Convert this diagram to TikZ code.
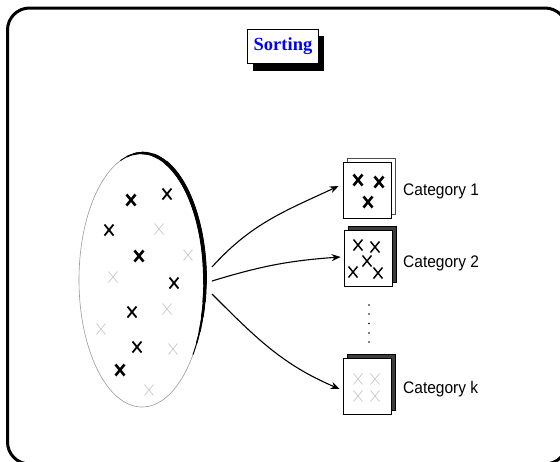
\documentclass[tikz,border=0pt]{standalone}
\usepackage{fontspec}
\setmainfont{Liberation Serif}
\setsansfont{Liberation Sans}
\usetikzlibrary{arrows.meta,shapes.geometric}
\definecolor{lightx}{RGB}{200,200,200}
\definecolor{darkpage}{RGB}{60,60,60}
\newcommand\crs[3]{\draw[#1] (#2-4.5,#3+5.5) -- (#2+4.5,#3-5.5) (#2-4.5,#3-5.5) -- (#2+4.5,#3+5.5);}
\newcommand\rim[3]{\draw[line width=#1] (142+63*cos #2,-280+127*sin #2) arc[start angle=#2,end angle=#3,x radius=63,y radius=127];}
\begin{document}
\begin{tikzpicture}[x=1pt,y=1pt,
  xb/.style={line width=2.6pt,black},
  xm/.style={line width=1.8pt,black},
  xg/.style={line width=0.7pt,lightx},
  xc/.style={line width=1.5pt,black},
  page/.style={draw=black,line width=0.7pt,minimum width=48pt,minimum height=56pt,inner sep=0pt,fill=white},
  catlabel/.style={anchor=west,font=\sffamily\fontsize{15.5}{18}\selectfont,inner sep=0pt,yscale=1.08},
  arr/.style={-{Stealth[length=9pt,width=7pt]},line width=1.1pt}]
\clip (0,0) rectangle (560,-461);
\useasboundingbox (0,0) rectangle (560,-461);
% outer frame
\draw[line width=3pt,rounded corners=22pt] (7.5,-8) rectangle (567,-464);
% title
\fill[black] (253,-36) rectangle (324,-71);
\node[draw=black,fill=white,line width=0.8pt,minimum width=71pt,minimum height=34pt,inner sep=0pt,
  font=\bfseries\fontsize{18.5}{20}\selectfont,text=blue] (title) at (283,-46) {Sorting};
% set ellipse
\node[draw=gray!80,line width=0.6pt,shape=ellipse,minimum width=126pt,minimum height=254pt,inner sep=0pt] (set) at (142,-280) {};
\rim{0.9pt}{110}{-36}
\rim{1.5pt}{104}{-30}
\rim{2.1pt}{98}{-24}
\rim{2.7pt}{90}{-17}
\rim{3.3pt}{80}{-10}
\rim{3.8pt}{68}{-2}
% crosses in the set
\crs{xb}{131}{-200}
\crs{xm}{167}{-194}
\crs{xm}{109}{-230}
\crs{xb}{139}{-256}
\crs{xm}{174}{-283}
\crs{xm}{132}{-312}
\crs{xm}{137}{-347}
\crs{xb}{120}{-370}
\crs{xg}{159}{-229}
\crs{xg}{188}{-255}
\crs{xg}{113}{-277}
\crs{xg}{167}{-309}
\crs{xg}{101}{-329}
\crs{xg}{173}{-349}
\crs{xg}{149}{-390}
% category pages
\node[page,draw=black!70] (b1) at (371,-186) {};
\node[page] (c1) at (367,-190) {};
\node[page,fill=darkpage] (b2) at (372,-254) {};
\node[page] (c2) at (368,-258) {};
\node[page,fill=darkpage] (bk) at (371,-382) {};
\node[page] (ck) at (367,-386) {};
\crs{xb}{358}{-180}
\crs{xb}{379}{-182}
\crs{xb}{368}{-202}
\crs{xc}{358}{-245}
\crs{xc}{375}{-247}
\crs{xc}{367}{-261}
\crs{xc}{353}{-272}
\crs{xc}{378}{-273}
\crs{xg}{358}{-379}
\crs{xg}{375}{-379}
\crs{xg}{358}{-396}
\crs{xg}{375}{-396}
% labels
\node[catlabel] (l1) at (403,-191) {Category 1};
\node[catlabel] (l2) at (403,-263) {Category 2};
\node[catlabel] (lk) at (403,-389) {Category k};
% dots
\foreach \yy in {305,314,323.5,333,342} \fill (369,-\yy) circle (0.85pt);
% arrows
\coordinate (s1) at (212,-267);
\coordinate (s2) at (212,-281);
\coordinate (sk) at (212,-294);
\draw[arr] (s1) to[out=48,in=205] ([xshift=-4pt,yshift=4pt]c1.west);
\draw[arr] (s2) to[out=17,in=184] ([xshift=-3pt,yshift=1pt]c2.west);
\draw[arr] (sk) to[out=-45,in=157] ([xshift=-3pt,yshift=-3pt]ck.west);
\end{tikzpicture}
\end{document}
